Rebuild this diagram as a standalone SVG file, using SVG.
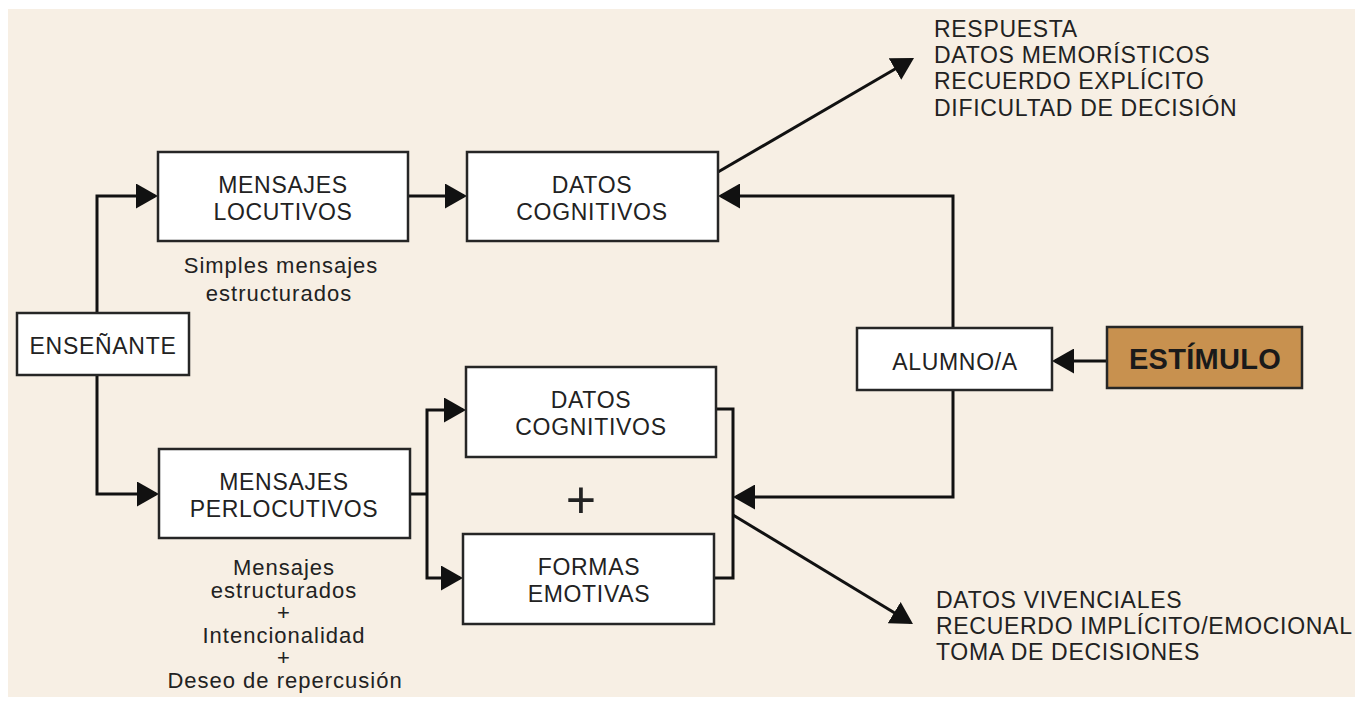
<svg xmlns="http://www.w3.org/2000/svg" width="1362" height="701" viewBox="0 0 1362 701">
<style>
.box{fill:#ffffff;stroke:#262626;stroke-width:2.5}
.stim{fill:#c8914f;stroke:#262626;stroke-width:2.5}
.t{font-family:"Liberation Sans",Arial,sans-serif;font-size:23px;letter-spacing:0.7px;fill:#222;text-anchor:middle}
.s{font-family:"Liberation Sans",Arial,sans-serif;font-size:22px;letter-spacing:1px;fill:#222;text-anchor:middle}
.r{font-family:"Liberation Sans",Arial,sans-serif;font-size:23px;letter-spacing:0.7px;fill:#222}
.b{font-family:"Liberation Sans",Arial,sans-serif;font-size:29px;font-weight:bold;letter-spacing:0.3px;fill:#1a1a1a;text-anchor:middle}
.c{fill:none;stroke:#111;stroke-width:3}
</style>
<defs>
<marker id="ah" viewBox="0 0 22 25" refX="19" refY="12.5" markerWidth="22" markerHeight="25" markerUnits="userSpaceOnUse" orient="auto">
<path d="M0,0 L22,12.5 L0,25 Z" fill="#111"/>
</marker>
</defs>
<rect x="0" y="0" width="1362" height="701" fill="#ffffff"/>
<rect x="8" y="9" width="1347" height="688" fill="#f7efe4"/>

<g id="connectors">
<path class="c" d="M97,313 V196 H155" marker-end="url(#ah)"/>
<path class="c" d="M97,375 V494 H156" marker-end="url(#ah)"/>
<path class="c" d="M408,196 H464" marker-end="url(#ah)"/>
<path class="c" d="M410,494 H427"/>
<path class="c" d="M427,494 V410 H463" marker-end="url(#ah)"/>
<path class="c" d="M427,494 V578 H460" marker-end="url(#ah)"/>
<path class="c" d="M716,409 H733 V578 H714"/>
<path class="c" d="M953,390 V497 H736" marker-end="url(#ah)"/>
<path class="c" d="M953,328 V196 H721" marker-end="url(#ah)"/>
<path class="c" d="M1107,361 H1055" marker-end="url(#ah)"/>
<path class="c" d="M718,172 L911.4,59.5" marker-end="url(#ah)"/>
<path class="c" d="M733,515 L910.4,622.5" marker-end="url(#ah)"/>
</g>

<g id="ensenante">
<rect class="box" x="17" y="313" width="172" height="62"/>
<text class="t" x="103" y="354">ENSEÑANTE</text>
</g>

<g id="mensajes-locutivos">
<rect class="box" x="158" y="152" width="250" height="89"/>
<text class="t" x="283" y="193">MENSAJES</text>
<text class="t" x="283" y="220">LOCUTIVOS</text>
</g>

<g id="nota-locutivos">
<text class="s" x="281" y="273">Simples mensajes</text>
<text class="s" x="279" y="301">estructurados</text>
</g>

<g id="datos-cognitivos-1">
<rect class="box" x="467" y="152" width="251" height="89"/>
<text class="t" x="592" y="193">DATOS</text>
<text class="t" x="592" y="220">COGNITIVOS</text>
</g>

<g id="mensajes-perlocutivos">
<rect class="box" x="159" y="449" width="251" height="89"/>
<text class="t" x="284" y="490">MENSAJES</text>
<text class="t" x="284" y="517">PERLOCUTIVOS</text>
</g>

<g id="nota-perlocutivos">
<text class="s" x="284" y="575">Mensajes</text>
<text class="s" x="284" y="597.5">estructurados</text>
<text class="s" x="284" y="620">+</text>
<text class="s" x="284" y="642.5">Intencionalidad</text>
<text class="s" x="284" y="665">+</text>
<text class="s" x="285" y="687.5">Deseo de repercusión</text>
</g>

<g id="datos-cognitivos-2">
<rect class="box" x="466" y="367" width="250" height="90"/>
<text class="t" x="591" y="408">DATOS</text>
<text class="t" x="591" y="435">COGNITIVOS</text>
</g>

<g id="mas">
<text x="581" y="518" style="font-family:'Liberation Sans',Arial,sans-serif;font-size:52px;fill:#222;text-anchor:middle">+</text>
</g>

<g id="formas-emotivas">
<rect class="box" x="463" y="534" width="251" height="90"/>
<text class="t" x="589" y="575">FORMAS</text>
<text class="t" x="589" y="602">EMOTIVAS</text>
</g>

<g id="alumno">
<rect class="box" x="857" y="328" width="195" height="62"/>
<text class="t" x="955" y="370">ALUMNO/A</text>
</g>

<g id="estimulo">
<rect class="stim" x="1107" y="327" width="195" height="61"/>
<text class="b" x="1205" y="369">ESTÍMULO</text>
</g>

<g id="resultado-superior">
<text class="r" x="934" y="37">RESPUESTA</text>
<text class="r" x="934" y="63">DATOS MEMORÍSTICOS</text>
<text class="r" x="934" y="89">RECUERDO EXPLÍCITO</text>
<text class="r" x="934" y="116">DIFICULTAD DE DECISIÓN</text>
</g>

<g id="resultado-inferior">
<text class="r" x="936" y="608">DATOS VIVENCIALES</text>
<text class="r" x="936" y="634">RECUERDO IMPLÍCITO/EMOCIONAL</text>
<text class="r" x="936" y="660">TOMA DE DECISIONES</text>
</g>
</svg>
